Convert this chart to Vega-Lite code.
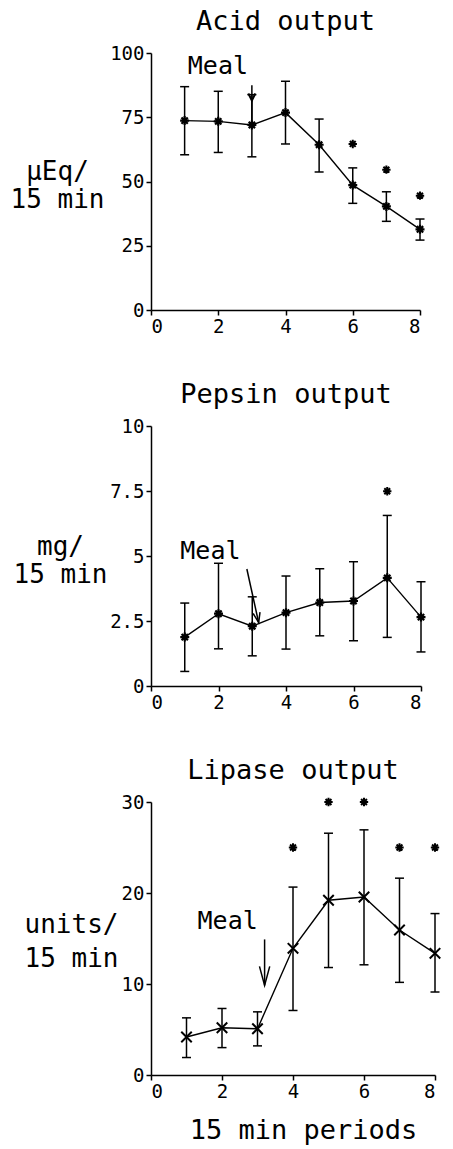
{
  "$schema": "https://vega.github.io/schema/vega-lite/v6.json",
  "background": "white",
  "padding": {"left": 10, "top": 8, "right": 5, "bottom": 5},
  "spacing": 116,
  "bounds": "flush",
  "datasets": {
    "acid": [
      {"period": 1, "mean": 73.7, "lo": 60.4, "hi": 86.9, "star": null},
      {"period": 2, "mean": 73.4, "lo": 61.3, "hi": 85.1, "star": null},
      {"period": 3, "mean": 72.0, "lo": 59.6, "hi": 83.8, "star": null},
      {"period": 4, "mean": 76.8, "lo": 64.6, "hi": 89.0, "star": null},
      {"period": 5, "mean": 64.3, "lo": 53.7, "hi": 74.3, "star": null},
      {"period": 6, "mean": 48.6, "lo": 41.5, "hi": 55.3, "star": 64.6},
      {"period": 7, "mean": 40.3, "lo": 34.5, "hi": 46.0, "star": 54.6},
      {"period": 8, "mean": 31.4, "lo": 27.2, "hi": 35.4, "star": 44.5}
    ],
    "pepsin": [
      {"period": 1, "mean": 1.88, "lo": 0.56, "hi": 3.19, "star": null},
      {"period": 2, "mean": 2.78, "lo": 1.43, "hi": 4.72, "star": null},
      {"period": 3, "mean": 2.30, "lo": 1.16, "hi": 3.43, "star": null},
      {"period": 4, "mean": 2.82, "lo": 1.42, "hi": 4.23, "star": null},
      {"period": 5, "mean": 3.21, "lo": 1.93, "hi": 4.51, "star": null},
      {"period": 6, "mean": 3.27, "lo": 1.74, "hi": 4.78, "star": null},
      {"period": 7, "mean": 4.16, "lo": 1.87, "hi": 6.56, "star": 7.49},
      {"period": 8, "mean": 2.65, "lo": 1.31, "hi": 4.01, "star": null}
    ],
    "lipase": [
      {"period": 1, "mean": 4.18, "lo": 1.92, "hi": 6.28, "star": null},
      {"period": 2, "mean": 5.19, "lo": 3.01, "hi": 7.31, "star": null},
      {"period": 3, "mean": 5.08, "lo": 3.20, "hi": 6.94, "star": null},
      {"period": 4, "mean": 13.92, "lo": 7.09, "hi": 20.65, "star": 25},
      {"period": 5, "mean": 19.2, "lo": 11.81, "hi": 26.57, "star": 30},
      {"period": 6, "mean": 19.56, "lo": 12.11, "hi": 26.94, "star": 30},
      {"period": 7, "mean": 15.93, "lo": 10.18, "hi": 21.63, "star": 25},
      {"period": 8, "mean": 13.37, "lo": 9.12, "hi": 17.74, "star": 25}
    ],
    "acidNote": [{"label": "Meal", "tx": 1.99, "ty": 94.9, "ax": 3.0, "ay": 87.5, "ax2": 3.0, "ay2": 73.5, "hx": 3.0, "hy": 81.5}],
    "pepsinNote": [{"label": "Meal", "tx": 1.76, "ty": 5.2, "ax": 2.84, "ay": 4.5, "ax2": 3.19, "ay2": 2.44, "hx": 3.19, "hy": 2.44}],
    "lipaseNote": [{"label": "Meal", "tx": 2.16, "ty": 16.9, "ax": 3.2, "ay": 14.9, "ax2": 3.2, "ay2": 9.85, "hx": 3.2, "hy": 9.85}]
  },
  "vconcat": [
    {
      "title": {"text": "Acid output"},
      "width": 269,
      "height": 257,
      "layer": [
        {
          "data": {"name": "acid"},
          "mark": {"type": "rule", "color": "black", "strokeWidth": 1.5},
          "encoding": {
            "x": {"field": "period", "type": "quantitative", "scale": {"domain": [0, 8], "nice": false}, "axis": {"values": [0, 2, 4, 6, 8], "title": null}},
            "y": {"field": "lo", "type": "quantitative", "scale": {"domain": [0, 100], "nice": false}, "axis": {"values": [0, 25, 50, 75, 100], "labelExpr": "'' + datum.value", "title": ["µEq/", "15 min"], "titleX": -94, "titleY": 118, "titleLineHeight": 28}},
            "y2": {"field": "hi"}
          }
        },
        {
          "data": {"name": "acid"},
          "mark": {"type": "point", "shape": "M-1,0L1,0", "size": 81, "filled": false, "color": "black", "strokeWidth": 1.5, "opacity": 1},
          "encoding": {"x": {"field": "period", "type": "quantitative"}, "y": {"field": "hi", "type": "quantitative"}}
        },
        {
          "data": {"name": "acid"},
          "mark": {"type": "point", "shape": "M-1,0L1,0", "size": 81, "filled": false, "color": "black", "strokeWidth": 1.5, "opacity": 1},
          "encoding": {"x": {"field": "period", "type": "quantitative"}, "y": {"field": "lo", "type": "quantitative"}}
        },
        {
          "data": {"name": "acid"},
          "mark": {"type": "line", "color": "black", "strokeWidth": 1.4},
          "encoding": {"x": {"field": "period", "type": "quantitative"}, "y": {"field": "mean", "type": "quantitative"}}
        },
        {
          "data": {"name": "acid"},
          "mark": {"type": "point", "shape": "M-1,0L1,0M0,-1L0,1M-0.7,-0.7L0.7,0.7M0.7,-0.7L-0.7,0.7", "size": 81, "filled": false, "color": "black", "strokeWidth": 2.2, "opacity": 1},
          "encoding": {"x": {"field": "period", "type": "quantitative"}, "y": {"field": "mean", "type": "quantitative"}}
        },
        {
          "data": {"name": "acid"},
          "transform": [{"filter": "datum.star != null"}],
          "mark": {"type": "point", "shape": "M-1,0L1,0M0,-1L0,1M-0.7,-0.7L0.7,0.7M0.7,-0.7L-0.7,0.7", "size": 70, "filled": false, "color": "black", "strokeWidth": 2, "opacity": 1},
          "encoding": {"x": {"field": "period", "type": "quantitative"}, "y": {"field": "star", "type": "quantitative"}}
        },
        {
          "data": {"name": "acidNote"},
          "mark": {"type": "text", "font": "DejaVu Sans Mono", "fontSize": 25, "color": "black", "baseline": "middle", "align": "center"},
          "encoding": {"x": {"field": "tx", "type": "quantitative"}, "y": {"field": "ty", "type": "quantitative"}, "text": {"field": "label"}}
        },
        {
          "data": {"name": "acidNote"},
          "mark": {"type": "rule", "color": "black", "strokeWidth": 1.5},
          "encoding": {"x": {"field": "ax", "type": "quantitative"}, "y": {"field": "ay", "type": "quantitative"}, "x2": {"field": "ax2"}, "y2": {"field": "ay2"}}
        },
        {
          "data": {"name": "acidNote"},
          "mark": {"type": "point", "shape": "M-0.5,-1L0,0L0.5,-1", "size": 196, "filled": false, "color": "black", "strokeWidth": 2, "opacity": 1},
          "encoding": {"x": {"field": "hx", "type": "quantitative"}, "y": {"field": "hy", "type": "quantitative"}}
        }
      ]
    },
    {
      "title": {"text": "Pepsin output"},
      "width": 270,
      "height": 260,
      "layer": [
        {
          "data": {"name": "pepsin"},
          "mark": {"type": "rule", "color": "black", "strokeWidth": 1.5},
          "encoding": {
            "x": {"field": "period", "type": "quantitative", "scale": {"domain": [0, 8], "nice": false}, "axis": {"values": [0, 2, 4, 6, 8], "title": null}},
            "y": {"field": "lo", "type": "quantitative", "scale": {"domain": [0, 10], "nice": false}, "axis": {"values": [0, 2.5, 5, 7.5, 10], "labelExpr": "'' + datum.value", "title": ["mg/", "15 min"], "titleX": -91, "titleY": 120, "titleLineHeight": 28}},
            "y2": {"field": "hi"}
          }
        },
        {
          "data": {"name": "pepsin"},
          "mark": {"type": "point", "shape": "M-1,0L1,0", "size": 81, "filled": false, "color": "black", "strokeWidth": 1.5, "opacity": 1},
          "encoding": {"x": {"field": "period", "type": "quantitative"}, "y": {"field": "hi", "type": "quantitative"}}
        },
        {
          "data": {"name": "pepsin"},
          "mark": {"type": "point", "shape": "M-1,0L1,0", "size": 81, "filled": false, "color": "black", "strokeWidth": 1.5, "opacity": 1},
          "encoding": {"x": {"field": "period", "type": "quantitative"}, "y": {"field": "lo", "type": "quantitative"}}
        },
        {
          "data": {"name": "pepsin"},
          "mark": {"type": "line", "color": "black", "strokeWidth": 1.4},
          "encoding": {"x": {"field": "period", "type": "quantitative"}, "y": {"field": "mean", "type": "quantitative"}}
        },
        {
          "data": {"name": "pepsin"},
          "mark": {"type": "point", "shape": "M-1,0L1,0M0,-1L0,1M-0.7,-0.7L0.7,0.7M0.7,-0.7L-0.7,0.7", "size": 81, "filled": false, "color": "black", "strokeWidth": 2.2, "opacity": 1},
          "encoding": {"x": {"field": "period", "type": "quantitative"}, "y": {"field": "mean", "type": "quantitative"}}
        },
        {
          "data": {"name": "pepsin"},
          "transform": [{"filter": "datum.star != null"}],
          "mark": {"type": "point", "shape": "M-1,0L1,0M0,-1L0,1M-0.7,-0.7L0.7,0.7M0.7,-0.7L-0.7,0.7", "size": 70, "filled": false, "color": "black", "strokeWidth": 2, "opacity": 1},
          "encoding": {"x": {"field": "period", "type": "quantitative"}, "y": {"field": "star", "type": "quantitative"}}
        },
        {
          "data": {"name": "pepsinNote"},
          "mark": {"type": "text", "font": "DejaVu Sans Mono", "fontSize": 25, "color": "black", "baseline": "middle", "align": "center"},
          "encoding": {"x": {"field": "tx", "type": "quantitative"}, "y": {"field": "ty", "type": "quantitative"}, "text": {"field": "label"}}
        },
        {
          "data": {"name": "pepsinNote"},
          "mark": {"type": "rule", "color": "black", "strokeWidth": 1.5},
          "encoding": {"x": {"field": "ax", "type": "quantitative"}, "y": {"field": "ay", "type": "quantitative"}, "x2": {"field": "ax2"}, "y2": {"field": "ay2"}}
        },
        {
          "data": {"name": "pepsinNote"},
          "mark": {"type": "point", "shape": "M-0.35,-1L0,0L0.35,-1", "size": 400, "filled": false, "color": "black", "strokeWidth": 1.5, "opacity": 1, "angle": -12},
          "encoding": {"x": {"field": "hx", "type": "quantitative"}, "y": {"field": "hy", "type": "quantitative"}}
        }
      ]
    },
    {
      "title": {"text": "Lipase output"},
      "width": 284,
      "height": 273,
      "layer": [
        {
          "data": {"name": "lipase"},
          "mark": {"type": "rule", "color": "black", "strokeWidth": 1.5},
          "encoding": {
            "x": {"field": "period", "type": "quantitative", "scale": {"domain": [0, 8], "nice": false}, "axis": {"values": [0, 2, 4, 6, 8], "title": "15 min periods", "titleX": 152, "titleY": 42, "titleBaseline": "top", "titleAlign": "center", "titleFontSize": 27}},
            "y": {"field": "lo", "type": "quantitative", "scale": {"domain": [0, 30], "nice": false}, "axis": {"values": [0, 10, 20, 30], "labelExpr": "'' + datum.value", "title": ["units/", "15 min"], "titleX": -80, "titleY": 122, "titleLineHeight": 34}},
            "y2": {"field": "hi"}
          }
        },
        {
          "data": {"name": "lipase"},
          "mark": {"type": "point", "shape": "M-1,0L1,0", "size": 81, "filled": false, "color": "black", "strokeWidth": 1.5, "opacity": 1},
          "encoding": {"x": {"field": "period", "type": "quantitative"}, "y": {"field": "hi", "type": "quantitative"}}
        },
        {
          "data": {"name": "lipase"},
          "mark": {"type": "point", "shape": "M-1,0L1,0", "size": 81, "filled": false, "color": "black", "strokeWidth": 1.5, "opacity": 1},
          "encoding": {"x": {"field": "period", "type": "quantitative"}, "y": {"field": "lo", "type": "quantitative"}}
        },
        {
          "data": {"name": "lipase"},
          "mark": {"type": "line", "color": "black", "strokeWidth": 1.4},
          "encoding": {"x": {"field": "period", "type": "quantitative"}, "y": {"field": "mean", "type": "quantitative"}}
        },
        {
          "data": {"name": "lipase"},
          "mark": {"type": "point", "shape": "M-1,-1L1,1M1,-1L-1,1", "size": 110, "filled": false, "color": "black", "strokeWidth": 2, "opacity": 1},
          "encoding": {"x": {"field": "period", "type": "quantitative"}, "y": {"field": "mean", "type": "quantitative"}}
        },
        {
          "data": {"name": "lipase"},
          "transform": [{"filter": "datum.star != null"}],
          "mark": {"type": "point", "shape": "M-1,0L1,0M0,-1L0,1M-0.7,-0.7L0.7,0.7M0.7,-0.7L-0.7,0.7", "size": 70, "filled": false, "color": "black", "strokeWidth": 2, "opacity": 1},
          "encoding": {"x": {"field": "period", "type": "quantitative"}, "y": {"field": "star", "type": "quantitative"}}
        },
        {
          "data": {"name": "lipaseNote"},
          "mark": {"type": "text", "font": "DejaVu Sans Mono", "fontSize": 25, "color": "black", "baseline": "middle", "align": "center"},
          "encoding": {"x": {"field": "tx", "type": "quantitative"}, "y": {"field": "ty", "type": "quantitative"}, "text": {"field": "label"}}
        },
        {
          "data": {"name": "lipaseNote"},
          "mark": {"type": "rule", "color": "black", "strokeWidth": 1.5},
          "encoding": {"x": {"field": "ax", "type": "quantitative"}, "y": {"field": "ay", "type": "quantitative"}, "x2": {"field": "ax2"}, "y2": {"field": "ay2"}}
        },
        {
          "data": {"name": "lipaseNote"},
          "mark": {"type": "point", "shape": "M-0.27,-1L0,0L0.27,-1", "size": 1444, "filled": false, "color": "black", "strokeWidth": 1.5, "opacity": 1},
          "encoding": {"x": {"field": "hx", "type": "quantitative"}, "y": {"field": "hy", "type": "quantitative"}}
        }
      ]
    }
  ],
  "config": {
    "view": {"stroke": null},
    "axis": {
      "grid": false,
      "domainColor": "black",
      "domainWidth": 1.5,
      "tickColor": "black",
      "tickWidth": 1.5,
      "tickSize": 5,
      "labelFont": "DejaVu Sans Mono",
      "labelFontSize": 19,
      "labelColor": "black",
      "labelPadding": 2,
      "labelOverlap": false,
      "titleFont": "DejaVu Sans Mono",
      "titleFontSize": 26,
      "titleFontWeight": "normal",
      "titleColor": "black"
    },
    "axisY": {"titleAngle": 0, "titleAlign": "center", "titleBaseline": "middle"},
    "title": {"font": "DejaVu Sans Mono", "fontSize": 27, "fontWeight": "normal", "color": "black", "anchor": "middle", "frame": "group", "offset": 8}
  }
}
